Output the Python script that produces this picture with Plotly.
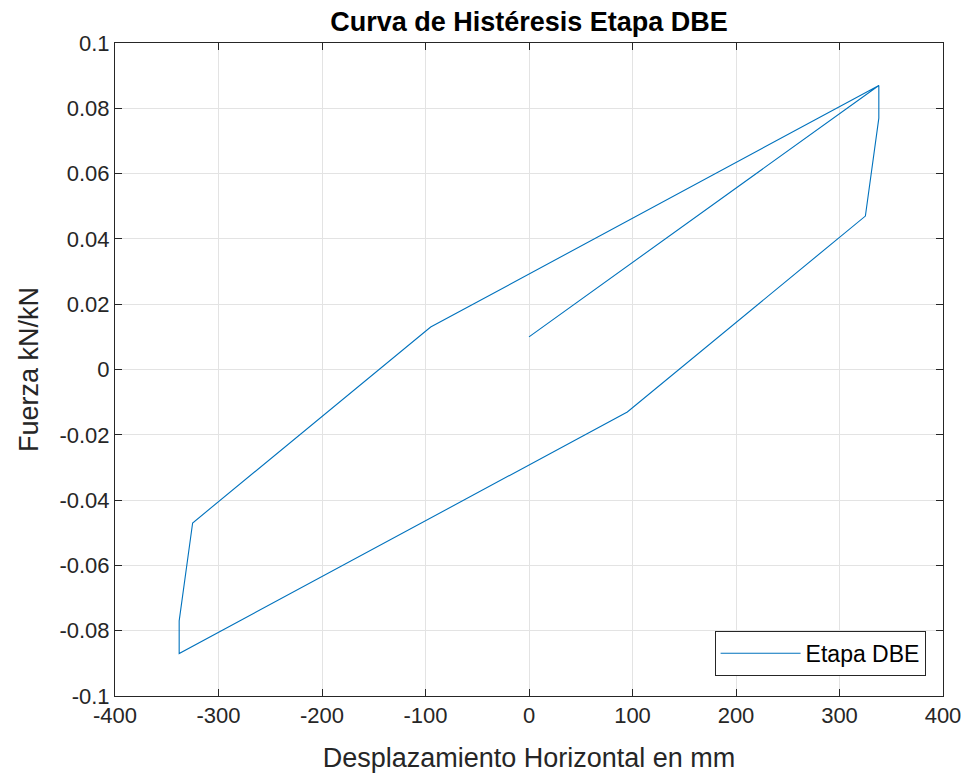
import plotly.graph_objects as go

# Hysteresis loop: horizontal displacement (mm) vs normalized force (kN/kN)
desplazamiento = [0, 338, 338, 325, 95, -338, -338, -325, -95, 338]
fuerza = [0.010, 0.087, 0.077, 0.047, -0.013, -0.087, -0.077, -0.047, 0.013, 0.087]

x_ticks = [-400, -300, -200, -100, 0, 100, 200, 300, 400]
x_labels = ["-400", "-300", "-200", "-100", "0", "100", "200", "300", "400"]
y_ticks = [-0.1, -0.08, -0.06, -0.04, -0.02, 0, 0.02, 0.04, 0.06, 0.08, 0.1]
y_labels = ["-0.1", "-0.08", "-0.06", "-0.04", "-0.02", "0", "0.02", "0.04", "0.06", "0.08", "0.1"]

FONT = "Liberation Sans, Arial, sans-serif"
AXIS_COLOR = "#262626"

fig = go.Figure()
fig.add_trace(go.Scatter(
    x=desplazamiento, y=fuerza, mode="lines", name="Etapa DBE",
    line=dict(color="#0072BD", width=1.1),
))

axis_common = dict(
    showline=True, linecolor=AXIS_COLOR, linewidth=1, mirror="ticks",
    ticks="inside", ticklen=7, tickcolor=AXIS_COLOR, tickwidth=1.3,
    showgrid=True, gridcolor="#e3e3e3", gridwidth=1, zeroline=False,
    automargin=False,
    tickfont=dict(family=FONT, size=22, color=AXIS_COLOR),
)

fig.update_layout(
    width=968, height=778,
    margin=dict(l=115, r=25, t=43, b=82),
    paper_bgcolor="white", plot_bgcolor="white",
    title=dict(text="<b>Curva de Histéresis Etapa DBE</b>", x=0.5465, xanchor="center",
               y=0.972, yanchor="middle",
               font=dict(family=FONT, size=27, color="black")),
    xaxis=dict(range=[-400, 400], tickvals=x_ticks, ticktext=x_labels,
               title=dict(text="Desplazamiento Horizontal en mm", standoff=20,
                          font=dict(family=FONT, size=27, color=AXIS_COLOR)),
               **axis_common),
    yaxis=dict(range=[-0.1, 0.1], tickvals=y_ticks, ticktext=y_labels,
               title=dict(text="Fuerza kN/kN", standoff=12,
                          font=dict(family=FONT, size=27, color=AXIS_COLOR)),
               **axis_common),
    showlegend=True,
    legend=dict(x=0.979, y=0.031, xanchor="right", yanchor="bottom",
                bgcolor="white", bordercolor=AXIS_COLOR, borderwidth=1,
                font=dict(family=FONT, size=23, color="black"),
                itemwidth=80),
)

fig.write_html("out.html")
